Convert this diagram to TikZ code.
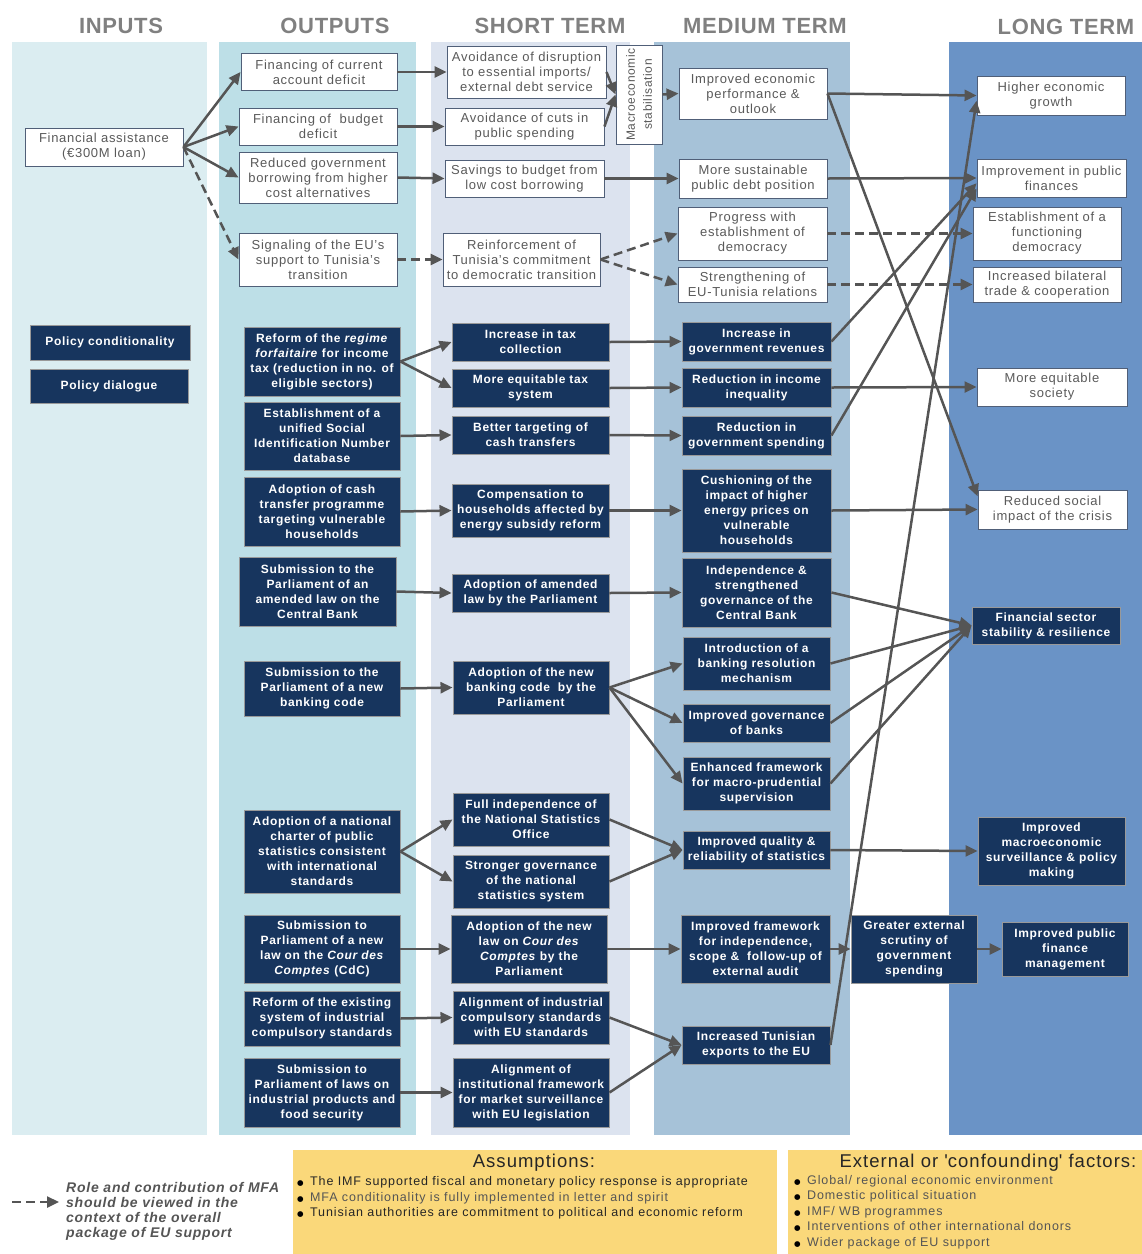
\documentclass[tikz,border=0pt]{standalone}
\usepackage{fontspec}
\setmainfont{Liberation Sans}[LetterSpace=5.5]
\newfontfamily\headfont{Liberation Sans}[LetterSpace=3]
\newfontfamily\notefont{Liberation Sans}[LetterSpace=7]
\newfontfamily\symfont{DejaVu Sans}
\usetikzlibrary{arrows.meta}
\definecolor{boxnavy}{RGB}{23,53,94}
\definecolor{boxedge}{RGB}{80,95,120}
\definecolor{arrowgrey}{RGB}{85,85,85}
\definecolor{textgrey}{RGB}{90,90,90}
\definecolor{headgrey}{RGB}{128,128,128}
\definecolor{notedark}{RGB}{38,38,38}
\definecolor{notegrey}{RGB}{85,85,85}
\definecolor{laneinputs}{RGB}{219,237,241}
\definecolor{laneoutputs}{RGB}{189,223,231}
\definecolor{laneshort}{RGB}{220,227,239}
\definecolor{lanemedium}{RGB}{166,194,216}
\definecolor{lanelong}{RGB}{106,147,198}
\definecolor{notebg}{RGB}{250,216,122}
\newcommand{\bul}{\makebox[13pt][l]{\color{black}\symfont\fontsize{7.5}{10}\selectfont ●}}

\begin{document}
\begin{tikzpicture}[x=1pt, y=-1pt,
  wbox/.style={rectangle, draw=boxedge, line width=0.9pt, fill=white,
    text=textgrey, align=center, inner sep=1pt,
    font=\fontsize{13}{15}\selectfont},
  dbox/.style={rectangle, draw=gray!80, line width=0.9pt, fill=boxnavy,
    text=white, align=center, inner sep=1pt,
    font=\fontsize{12}{15}\selectfont\bfseries},
  wh/.style 2 args={minimum width=#1pt, minimum height=#2pt},
  head/.style={text=headgrey, font=\headfont\bfseries\fontsize{22}{26}\selectfont},
  arrow/.style={-{Triangle[length=12pt, width=11pt]}, line width=2.5pt, arrowgrey},
  darrow/.style={arrow, dash pattern=on 9pt off 5pt},
]
  \useasboundingbox (0,0) rectangle (1142,1254);
  \fill[laneinputs]  (12,42)  rectangle (207,1135);
  \fill[laneoutputs] (219,42) rectangle (416,1135);
  \fill[laneshort]   (431,42) rectangle (630,1135);
  \fill[lanemedium]  (654,42) rectangle (850,1135);
  \fill[lanelong]    (949,42) rectangle (1142,1135);

  \node[head] (hin)    at (121,26)  {INPUTS};
  \node[head] (hout)   at (335,26)  {OUTPUTS};
  \node[head] (hshort) at (550,26)  {SHORT TERM};
  \node[head] (hmed)   at (765,26)  {MEDIUM TERM};
  \node[head] (hlong)  at (1066,27) {LONG TERM};

  \node[wbox, wh={158}{38}] (fin)  at (104,147)   {Financial assistance\\(€300M loan)};
  \node[wbox, wh={156}{37}] (cad)  at (319,72)    {Financing of current\\account deficit};
  \node[wbox, wh={158}{37}] (bud)  at (318,126.5) {Financing of\ \ budget\\deficit};
  \node[wbox, wh={158}{51}] (bor)  at (318,177.5) {Reduced government\\borrowing from higher\\cost alternatives};
  \node[wbox, wh={158}{53}] (sig)  at (318,259.5) {Signaling of the EU's\\support to Tunisia's\\transition};
  \node[wbox, wh={159}{52}] (dis)  at (526.5,72)  {Avoidance of disruption\\to essential imports/\\external debt service};
  \node[wbox, wh={159}{37}] (cut)  at (524.5,126.5) {Avoidance of cuts in\\public spending};
  \node[wbox, wh={159}{37}] (sav)  at (524.5,178.5) {Savings to budget from\\low cost borrowing};
  \node[wbox, wh={157}{53}] (rei)  at (521.5,259.5) {Reinforcement of\\Tunisia's commitment\\to democratic transition};
  \node[wbox, wh={99}{46}, rotate=90, font=\fontsize{12}{17}\selectfont]
    (macro) at (639,94.5) {Macroeconomic\\stabilisation};
  \node[wbox, wh={148}{51}] (imp)  at (753,93.5)   {Improved economic\\performance \&\\outlook};
  \node[wbox, wh={148}{39}] (sus)  at (753,178.5)  {More sustainable\\public debt position};
  \node[wbox, wh={149}{53}] (prog) at (752.5,233.5) {Progress with\\establishment of\\democracy};
  \node[wbox, wh={149}{35}] (str)  at (752.5,284.5) {Strengthening of\\EU-Tunisia relations};
  \node[wbox, wh={148}{39}] (grow) at (1051,95.5)   {Higher economic\\growth};
  \node[wbox, wh={149}{38}] (pubf) at (1051.5,178)  {Improvement in public\\finances};
  \node[wbox, wh={148}{53}] (dem)  at (1047,233.5)  {Establishment of a\\functioning\\democracy};
  \node[wbox, wh={148}{35}] (trade) at (1047,284.5) {Increased bilateral\\trade \& cooperation};
  \node[wbox, wh={150}{38}] (eqs)  at (1052,387)    {More equitable\\society};
  \node[wbox, wh={149}{39}] (soc)  at (1052.5,509.5) {Reduced social\\impact of the crisis};

  \node[dbox, wh={160}{35}] (pc)   at (110,342.5) {Policy conditionality};
  \node[dbox, wh={158}{34}] (pd)   at (109,386)   {Policy dialogue};

  \node[dbox, wh={156}{69}] (ff)   at (322,361.5) {Reform of the \textit{regime}\\\textit{forfaitaire} for income\\tax (reduction in no. of\\eligible sectors)};
  \node[dbox, wh={156}{68}] (sin)  at (322,436)   {Establishment of a\\unified Social\\Identification Number\\database};
  \node[dbox, wh={156}{69}] (cash) at (322,511.5) {Adoption of cash\\transfer programme\\targeting vulnerable\\households};
  \node[dbox, wh={157}{69}] (cb)   at (317.5,591.5) {Submission to the\\Parliament of an\\amended law on the\\Central Bank};
  \node[dbox, wh={156}{55}] (nbc)  at (322,688.5) {Submission to the\\Parliament of a new\\banking code};
  \node[dbox, wh={156}{83}] (stat) at (322,851.5) {Adoption of a national\\charter of public\\statistics consistent\\with international\\standards};
  \node[dbox, wh={156}{68}] (cdc)  at (322,949)   {Submission to\\Parliament of a new\\law on the \textit{Cour des}\\\textit{Comptes} (CdC)};
  \node[dbox, wh={156}{55}] (ind)  at (322,1018.5) {Reform of the existing\\system of industrial\\compulsory standards};
  \node[dbox, wh={156}{69}] (food) at (322,1092.5) {Submission to\\Parliament of laws on\\industrial products and\\food security};

  \node[dbox, wh={157}{38}] (tax)  at (530.5,342)  {Increase in tax\\collection};
  \node[dbox, wh={157}{38}] (eqt)  at (530.5,388)  {More equitable tax\\system};
  \node[dbox, wh={157}{38}] (tgt)  at (530.5,435)  {Better targeting of\\cash transfers};
  \node[dbox, wh={157}{53}] (comp) at (530.5,510.5) {Compensation to\\households affected by\\energy subsidy reform};
  \node[dbox, wh={157}{38}] (adl)  at (530.5,593)  {Adoption of amended\\law by the Parliament};
  \node[dbox, wh={156}{53}] (abc)  at (531,687.5)  {Adoption of the new\\banking code\ \ by the\\Parliament};
  \node[dbox, wh={156}{53}] (nso)  at (531,819.5)  {Full independence of\\the National Statistics\\Office};
  \node[dbox, wh={156}{53}] (gov)  at (531,881.5)  {Stronger governance\\of the national\\statistics system};
  \node[dbox, wh={156}{68}] (acdc) at (529,949)    {Adoption of the new\\law on \textit{Cour des}\\\textit{Comptes} by the\\Parliament};
  \node[dbox, wh={156}{53}] (aind) at (531,1017.5) {Alignment of industrial\\compulsory standards\\with EU standards};
  \node[dbox, wh={156}{69}] (mkt)  at (531,1092.5) {Alignment of\\institutional framework\\for market surveillance\\with EU legislation};

  \node[dbox, wh={149}{39}] (rev)   at (756.5,341.5) {Increase in\\government revenues};
  \node[dbox, wh={149}{39}] (ineq)  at (756.5,387.5) {Reduction in income\\inequality};
  \node[dbox, wh={149}{39}] (spend) at (756.5,435.5) {Reduction in\\government spending};
  \node[dbox, wh={149}{83}] (cush)  at (756.5,510.5) {Cushioning of the\\impact of higher\\energy prices on\\vulnerable\\households};
  \node[dbox, wh={149}{69}] (indep) at (756.5,592.5) {Independence \&\\strengthened\\governance of the\\Central Bank};
  \node[dbox, wh={147}{53}] (res)   at (756.5,663.5) {Introduction of a\\banking resolution\\mechanism};
  \node[dbox, wh={147}{38}] (gbk)   at (756.5,723)   {Improved governance\\of banks};
  \node[dbox, wh={147}{53}] (macp)  at (756.5,783.5) {Enhanced framework\\for macro-prudential\\supervision};
  \node[dbox, wh={147}{38}] (qual)  at (756.5,850)   {Improved quality \&\\reliability of statistics};
  \node[dbox, wh={149}{68}] (aud)   at (755.5,949)   {Improved framework\\for independence,\\scope \&\ \ follow-up of\\external audit};
  \node[dbox, wh={148}{38}] (exp)   at (756,1045)    {Increased Tunisian\\exports to the EU};
  \node[dbox, wh={126}{68}] (scr)   at (914,949)     {Greater external\\scrutiny of\\government\\spending};

  \node[dbox, wh={148}{37}] (fss)   at (1046,625.5)  {Financial sector\\stability \& resilience};
  \node[dbox, wh={147}{68}] (surv)  at (1051.5,851)  {Improved\\macroeconomic\\surveillance \& policy\\making};
  \node[dbox, wh={126}{54}] (pfm)   at (1065,949)    {Improved public\\finance\\management};

  \draw[arrow]  (fin.east) -- (cad.west);
  \draw[arrow]  (fin.east) -- (bud.west);
  \draw[arrow]  (fin.east) -- (bor.west);
  \draw[darrow] (fin.east) -- (sig.west);
  \draw[arrow]  (cad.east) -- (dis.west);
  \draw[arrow]  (bud.east) -- (cut.west);
  \draw[arrow]  (bor.east) -- (sav.west);
  \draw[darrow] (sig.east) -- (rei.west);
  \draw[arrow]  (dis.east) -- (macro.north);
  \draw[arrow]  (cut.east) -- (macro.north);
  \draw[arrow]  (macro.south) -- (imp.west);
  \draw[arrow]  (sav.east) -- (sus.west);
  \draw[darrow] (rei.east) -- (prog.west);
  \draw[darrow] (rei.east) -- (str.west);
  \draw[arrow]  (imp.east) -- (grow.west);
  \draw[arrow]  (imp.east) -- (soc.170);
  \draw[arrow]  (sus.east) -- (pubf.west);
  \draw[darrow] (prog.east) -- (dem.west);
  \draw[darrow] (str.east) -- (trade.west);

  \draw[arrow]  (ff.east)   -- (tax.west);
  \draw[arrow]  (ff.east)   -- (eqt.west);
  \draw[arrow]  (sin.east)  -- (tgt.west);
  \draw[arrow]  (cash.east) -- (comp.west);
  \draw[arrow]  (cb.east)   -- (adl.west);
  \draw[arrow]  (tax.east)  -- (rev.west);
  \draw[arrow]  (eqt.east)  -- (ineq.west);
  \draw[arrow]  (tgt.east)  -- (spend.west);
  \draw[arrow]  (comp.east) -- (cush.west);
  \draw[arrow]  (adl.east)  -- (indep.west);
  \draw[arrow]  (rev.east)  -- (pubf.184);
  \draw[arrow]  (spend.east) -- (pubf.188);
  \draw[arrow]  (ineq.east) -- (eqs.west);
  \draw[arrow]  (cush.east) -- (soc.west);
  \draw[arrow]  (indep.east) -- (fss.west);

  \draw[arrow]  (nbc.east)  -- (abc.west);
  \draw[arrow]  (abc.east)  -- (res.west);
  \draw[arrow]  (abc.east)  -- (gbk.west);
  \draw[arrow]  (abc.east)  -- (macp.west);
  \draw[arrow]  (res.east)  -- (fss.west);
  \draw[arrow]  (gbk.east)  -- (fss.west);
  \draw[arrow]  (macp.east) -- (fss.west);
  \draw[arrow]  (stat.east) -- (nso.west);
  \draw[arrow]  (stat.east) -- (gov.west);
  \draw[arrow]  (nso.east)  -- (qual.west);
  \draw[arrow]  (gov.east)  -- (qual.west);
  \draw[arrow]  (qual.east) -- (surv.west);
  \draw[arrow]  (cdc.east)  -- (acdc.west);
  \draw[arrow]  (acdc.east) -- (aud.west);
  \draw[arrow]  (aud.east)  -- (scr.west);
  \draw[arrow]  (scr.east)  -- (pfm.west);
  \draw[arrow]  (ind.east)  -- (aind.west);
  \draw[arrow]  (food.east) -- (mkt.west);
  \draw[arrow]  (aind.east) -- (exp.west);
  \draw[arrow]  (mkt.east)  -- (exp.west);
  \draw[arrow]  (exp.east)  -- (grow.184);

  \coordinate (legs) at (12,1202);
  \coordinate (lege) at (59,1202);
  \draw[darrow] (legs) -- (lege);
  \node[anchor=west, align=left, inner sep=0pt, text=notegrey,
    font=\fontsize{14}{15}\selectfont\bfseries\itshape] (leg) at (66,1211.5)
    {Role and contribution of MFA\\should be viewed in the\\context of the overall\\package of EU support};

  \fill[notebg] (293,1150) rectangle (777,1254);
  \fill[notebg] (788,1150) rectangle (1142,1254);
  \node[text=notedark, font=\fontsize{18.5}{20}\selectfont] (asm) at (534,1163) {Assumptions:};
  \node[anchor=west, align=left, inner sep=0pt, text=notegrey,
    font=\notefont\fontsize{12.5}{15.5}\selectfont] (asml) at (297,1198)
    {\bul{\color{notedark}The IMF supported fiscal and monetary policy response is appropriate}\\
     \bul MFA conditionality is fully implemented in letter and spirit\\
     \bul{\color{notedark}Tunisian authorities are commitment to political and economic reform}};
  \node[text=notedark, font=\fontsize{18.5}{20}\selectfont] (ext) at (988,1163)
    {External or \textquotesingle confounding\textquotesingle\ factors:};
  \node[anchor=west, align=left, inner sep=0pt, text=notegrey,
    font=\notefont\fontsize{12.5}{15.5}\selectfont] (extl) at (794,1212)
    {\bul Global/ regional economic environment\\
     \bul Domestic political situation\\
     \bul IMF/ WB programmes\\
     \bul Interventions of other international donors\\
     \bul Wider package of EU support};
\end{tikzpicture}
\end{document}
